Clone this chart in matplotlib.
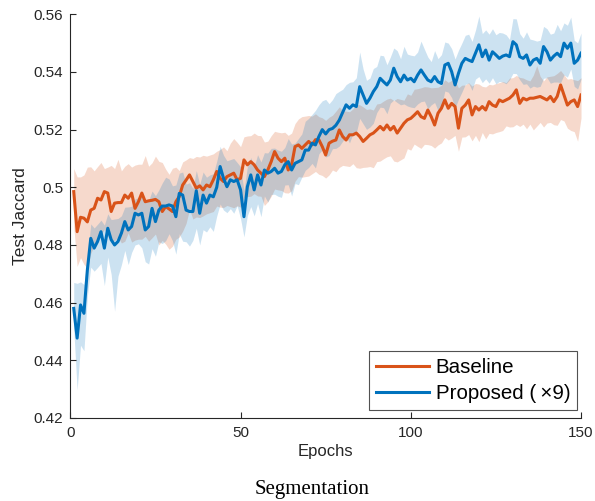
import matplotlib
matplotlib.use("Agg")
import matplotlib.pyplot as plt
import numpy as np

epochs = list(range(1, 151))

baseline = [
    0.4985, 0.4846, 0.4896, 0.4893, 0.4880, 0.4921, 0.4927, 0.4962, 0.4956, 0.4985,
    0.4980, 0.4916, 0.4945, 0.4947, 0.4947, 0.4973, 0.4962, 0.4980, 0.4927, 0.4950,
    0.4980, 0.4950, 0.4953, 0.4955, 0.4958, 0.4950, 0.4916, 0.4933, 0.4925, 0.4916,
    0.4950, 0.4968, 0.5008, 0.5025, 0.5043, 0.5020, 0.4997, 0.5005, 0.4991, 0.5008,
    0.5002, 0.5026, 0.5055, 0.5031, 0.5020, 0.5037, 0.5043, 0.5049, 0.5026, 0.5031,
    0.5095, 0.5078, 0.5089, 0.5078, 0.5060, 0.5049, 0.5037, 0.5060, 0.5089, 0.5124,
    0.5101, 0.5089, 0.5101, 0.5060, 0.5078, 0.5141, 0.5147, 0.5135, 0.5147, 0.5159,
    0.5147, 0.5165, 0.5165, 0.5141, 0.5112, 0.5153, 0.5160, 0.5164, 0.5199, 0.5176,
    0.5164, 0.5182, 0.5182, 0.5188, 0.5176, 0.5159, 0.5170, 0.5182, 0.5188, 0.5199,
    0.5211, 0.5199, 0.5216, 0.5199, 0.5211, 0.5188, 0.5205, 0.5222, 0.5234, 0.5239,
    0.5250, 0.5262, 0.5245, 0.5239, 0.5268, 0.5245, 0.5216, 0.5257, 0.5274, 0.5303,
    0.5274, 0.5291, 0.5280, 0.5205, 0.5274, 0.5285, 0.5303, 0.5251, 0.5280, 0.5268,
    0.5280, 0.5268, 0.5297, 0.5285, 0.5280, 0.5303, 0.5297, 0.5303, 0.5309, 0.5320,
    0.5338, 0.5291, 0.5309, 0.5303, 0.5309, 0.5309, 0.5312, 0.5315, 0.5309, 0.5303,
    0.5315, 0.5297, 0.5315, 0.5355, 0.5320, 0.5285, 0.5297, 0.5303, 0.5280, 0.5320,
]
baseline_up = [
    0.008, 0.019, 0.014, 0.015, 0.019, 0.015, 0.013, 0.011, 0.013, 0.008,
    0.009, 0.016, 0.012, 0.015, 0.011, 0.010, 0.012, 0.009, 0.015, 0.013,
    0.010, 0.016, 0.012, 0.013, 0.015, 0.014, 0.017, 0.013, 0.012, 0.015,
    0.012, 0.009, 0.008, 0.007, 0.006, 0.008, 0.011, 0.010, 0.012, 0.010,
    0.011, 0.009, 0.007, 0.010, 0.012, 0.009, 0.011, 0.012, 0.013, 0.011,
    0.008, 0.010, 0.009, 0.011, 0.012, 0.013, 0.012, 0.010, 0.009, 0.007,
    0.009, 0.010, 0.009, 0.012, 0.011, 0.008, 0.009, 0.011, 0.010, 0.009,
    0.010, 0.009, 0.008, 0.010, 0.012, 0.009, 0.009, 0.010, 0.008, 0.009,
    0.010, 0.008, 0.009, 0.010, 0.011, 0.012, 0.010, 0.009, 0.008, 0.009,
    0.008, 0.010, 0.009, 0.011, 0.009, 0.012, 0.010, 0.008, 0.009, 0.008,
    0.009, 0.008, 0.010, 0.011, 0.008, 0.010, 0.013, 0.009, 0.008, 0.007,
    0.009, 0.008, 0.009, 0.014, 0.008, 0.007, 0.006, 0.010, 0.008, 0.009,
    0.007, 0.008, 0.006, 0.007, 0.008, 0.006, 0.007, 0.006, 0.007, 0.006,
    0.005, 0.009, 0.007, 0.007, 0.006, 0.008, 0.011, 0.007, 0.006, 0.008,
    0.007, 0.009, 0.008, 0.005, 0.007, 0.009, 0.008, 0.007, 0.009, 0.006,
]
baseline_lo = [
    0.012, 0.012, 0.014, 0.016, 0.016, 0.015, 0.013, 0.014, 0.012, 0.013,
    0.015, 0.010, 0.013, 0.012, 0.014, 0.016, 0.012, 0.017, 0.011, 0.013,
    0.016, 0.012, 0.014, 0.013, 0.012, 0.015, 0.010, 0.013, 0.014, 0.012,
    0.013, 0.014, 0.016, 0.015, 0.012, 0.013, 0.010, 0.011, 0.009, 0.010,
    0.009, 0.011, 0.012, 0.010, 0.009, 0.010, 0.011, 0.012, 0.009, 0.010,
    0.013, 0.011, 0.012, 0.010, 0.009, 0.008, 0.010, 0.011, 0.012, 0.013,
    0.011, 0.010, 0.012, 0.008, 0.009, 0.012, 0.011, 0.010, 0.011, 0.012,
    0.010, 0.011, 0.012, 0.010, 0.008, 0.011, 0.010, 0.011, 0.013, 0.010,
    0.009, 0.011, 0.010, 0.012, 0.011, 0.009, 0.010, 0.011, 0.012, 0.011,
    0.012, 0.010, 0.011, 0.009, 0.012, 0.010, 0.011, 0.012, 0.010, 0.011,
    0.010, 0.012, 0.011, 0.009, 0.012, 0.010, 0.008, 0.011, 0.012, 0.013,
    0.011, 0.012, 0.010, 0.008, 0.010, 0.011, 0.012, 0.009, 0.010, 0.011,
    0.009, 0.010, 0.011, 0.010, 0.009, 0.011, 0.010, 0.009, 0.010, 0.011,
    0.012, 0.008, 0.009, 0.010, 0.009, 0.011, 0.010, 0.009, 0.010, 0.008,
    0.009, 0.008, 0.010, 0.012, 0.009, 0.008, 0.010, 0.011, 0.012, 0.008,
]

proposed = [
    0.4580, 0.4477, 0.4592, 0.4563, 0.4713, 0.4823, 0.4789, 0.4812, 0.4846, 0.4789,
    0.4858, 0.4818, 0.4800, 0.4812, 0.4841, 0.4881, 0.4852, 0.4864, 0.4910, 0.4904,
    0.4910, 0.4852, 0.4864, 0.4927, 0.4881, 0.4921, 0.4935, 0.4935, 0.4939, 0.4935,
    0.4898, 0.4979, 0.4973, 0.4921, 0.4916, 0.4916, 0.4988, 0.4910, 0.4973, 0.4945,
    0.4973, 0.4967, 0.5000, 0.5072, 0.5031, 0.5002, 0.5026, 0.5020, 0.5026, 0.4991,
    0.4898, 0.5002, 0.5043, 0.4991, 0.5043, 0.5008, 0.5060, 0.5049, 0.5055, 0.5066,
    0.5049, 0.5055, 0.5078, 0.5089, 0.5060, 0.5083, 0.5089, 0.5095, 0.5129, 0.5129,
    0.5153, 0.5147, 0.5176, 0.5200, 0.5185, 0.5200, 0.5204, 0.5215, 0.5233, 0.5260,
    0.5286, 0.5274, 0.5286, 0.5280, 0.5349, 0.5320, 0.5291, 0.5309, 0.5332, 0.5349,
    0.5378, 0.5366, 0.5355, 0.5372, 0.5413, 0.5384, 0.5366, 0.5389, 0.5372, 0.5378,
    0.5366, 0.5389, 0.5407, 0.5389, 0.5372, 0.5366, 0.5384, 0.5366, 0.5360, 0.5424,
    0.5430, 0.5401, 0.5355, 0.5395, 0.5430, 0.5447, 0.5441, 0.5436, 0.5465, 0.5494,
    0.5453, 0.5476, 0.5441, 0.5470, 0.5459, 0.5447, 0.5455, 0.5459, 0.5453, 0.5505,
    0.5494, 0.5453, 0.5447, 0.5459, 0.5424, 0.5441, 0.5447, 0.5430, 0.5488, 0.5470,
    0.5441, 0.5455, 0.5465, 0.5453, 0.5500, 0.5482, 0.5500, 0.5430, 0.5441, 0.5465,
]
proposed_up = [
    0.009, 0.019, 0.008, 0.010, 0.004, 0.005, 0.007, 0.006, 0.004, 0.008,
    0.005, 0.007, 0.009, 0.008, 0.006, 0.005, 0.008, 0.007, 0.005, 0.006,
    0.006, 0.010, 0.009, 0.006, 0.009, 0.007, 0.008, 0.010, 0.009, 0.007,
    0.011, 0.007, 0.008, 0.009, 0.010, 0.008, 0.007, 0.010, 0.008, 0.009,
    0.007, 0.008, 0.009, 0.007, 0.008, 0.009, 0.007, 0.008, 0.006, 0.008,
    0.009, 0.007, 0.006, 0.008, 0.007, 0.008, 0.006, 0.007, 0.008, 0.007,
    0.008, 0.007, 0.006, 0.008, 0.009, 0.007, 0.008, 0.009, 0.010, 0.011,
    0.010, 0.012, 0.011, 0.010, 0.012, 0.009, 0.010, 0.011, 0.010, 0.008,
    0.007, 0.009, 0.008, 0.010, 0.012, 0.009, 0.008, 0.007, 0.008, 0.007,
    0.008, 0.009, 0.007, 0.008, 0.007, 0.009, 0.008, 0.010, 0.009, 0.008,
    0.009, 0.008, 0.010, 0.009, 0.008, 0.007, 0.009, 0.008, 0.010, 0.008,
    0.007, 0.008, 0.009, 0.008, 0.007, 0.008, 0.009, 0.007, 0.008, 0.010,
    0.008, 0.007, 0.009, 0.008, 0.007, 0.009, 0.008, 0.007, 0.006, 0.008,
    0.009, 0.008, 0.007, 0.008, 0.009, 0.007, 0.006, 0.008, 0.007, 0.008,
    0.009, 0.008, 0.010, 0.009, 0.007, 0.008, 0.009, 0.008, 0.006, 0.007,
]
proposed_lo = [
    0.007, 0.018, 0.014, 0.013, 0.009, 0.010, 0.008, 0.009, 0.011, 0.013,
    0.010, 0.012, 0.023, 0.012, 0.011, 0.010, 0.012, 0.009, 0.011, 0.010,
    0.012, 0.011, 0.013, 0.014, 0.012, 0.011, 0.013, 0.012, 0.010, 0.012,
    0.013, 0.014, 0.016, 0.011, 0.012, 0.010, 0.013, 0.011, 0.012, 0.010,
    0.011, 0.012, 0.010, 0.013, 0.011, 0.009, 0.010, 0.011, 0.009, 0.010,
    0.007, 0.010, 0.011, 0.009, 0.010, 0.011, 0.009, 0.010, 0.008, 0.009,
    0.008, 0.009, 0.007, 0.008, 0.009, 0.007, 0.008, 0.006, 0.007, 0.006,
    0.007, 0.008, 0.006, 0.007, 0.008, 0.009, 0.007, 0.008, 0.009, 0.010,
    0.011, 0.012, 0.010, 0.009, 0.011, 0.010, 0.009, 0.010, 0.011, 0.009,
    0.010, 0.009, 0.010, 0.008, 0.011, 0.009, 0.008, 0.010, 0.009, 0.010,
    0.009, 0.010, 0.011, 0.009, 0.010, 0.008, 0.009, 0.010, 0.008, 0.009,
    0.010, 0.009, 0.008, 0.009, 0.010, 0.009, 0.008, 0.010, 0.009, 0.011,
    0.009, 0.010, 0.008, 0.009, 0.010, 0.008, 0.009, 0.010, 0.008, 0.011,
    0.010, 0.008, 0.009, 0.010, 0.008, 0.009, 0.010, 0.008, 0.011, 0.009,
    0.008, 0.009, 0.010, 0.009, 0.011, 0.010, 0.009, 0.008, 0.010, 0.009,
]

series_labels = ["Baseline", "Proposed (\u2009\u00d79)"]
x_ticks = [0, 50, 100, 150]
y_ticks = [0.42, 0.44, 0.46, 0.48, 0.50, 0.52, 0.54, 0.56]
y_ticklabels = ["0.42", "0.44", "0.46", "0.48", "0.5", "0.52", "0.54", "0.56"]

c_orange = "#D95319"
c_blue = "#0072BD"
axc = "#262626"

plt.rcParams["font.family"] = ["Liberation Sans", "DejaVu Sans"]

fig = plt.figure(figsize=(5.95, 5.01), dpi=100)
ax = fig.add_axes([0.1182, 0.1657, 0.8583, 0.8058])

x = np.array(epochs)
b = np.array(baseline)
p = np.array(proposed)

ax.fill_between(x, b - np.array(baseline_lo), b + np.array(baseline_up),
                color=c_orange, alpha=0.22, linewidth=0)
lb, = ax.plot(x, b, color=c_orange, lw=2.2, label=series_labels[0])
ax.fill_between(x, p - np.array(proposed_lo), p + np.array(proposed_up),
                color=c_blue, alpha=0.2, linewidth=0)
lp, = ax.plot(x, p, color=c_blue, lw=2.2, label=series_labels[1])

ax.set_xlim(0, 150)
ax.set_ylim(0.42, 0.56)
ax.set_xticks(x_ticks)
ax.set_yticks(y_ticks)
ax.set_yticklabels(y_ticklabels)
for s in ["top", "right"]:
    ax.spines[s].set_visible(False)
for s in ["left", "bottom"]:
    ax.spines[s].set_color(axc)
    ax.spines[s].set_linewidth(0.8)
ax.tick_params(direction="in", length=4, width=0.8, colors=axc, labelsize=11,
               top=False, right=False)
ax.tick_params(axis="y", pad=5)
ax.tick_params(axis="x", pad=6)
ax.set_xlabel("Epochs", fontsize=12, color=axc, labelpad=3)
ax.set_ylabel("Test Jaccard", fontsize=12.5, color=axc, labelpad=4)

leg = ax.legend(handles=[lb, lp], loc="lower right", bbox_to_anchor=(0.993, 0.02),
                borderaxespad=0, fontsize=14.8, frameon=True, fancybox=False,
                edgecolor=axc, handlelength=2.6, handletextpad=0.3,
                borderpad=0.35, labelspacing=0.32)
leg.get_frame().set_linewidth(0.8)
for t in leg.get_texts():
    t.set_color("#000000")

fig.text(0.525, 0.004, "Segmentation", ha="center", va="bottom",
         fontsize=15, family=["Liberation Serif", "DejaVu Serif"])

fig.savefig("out.png", dpi=100)
